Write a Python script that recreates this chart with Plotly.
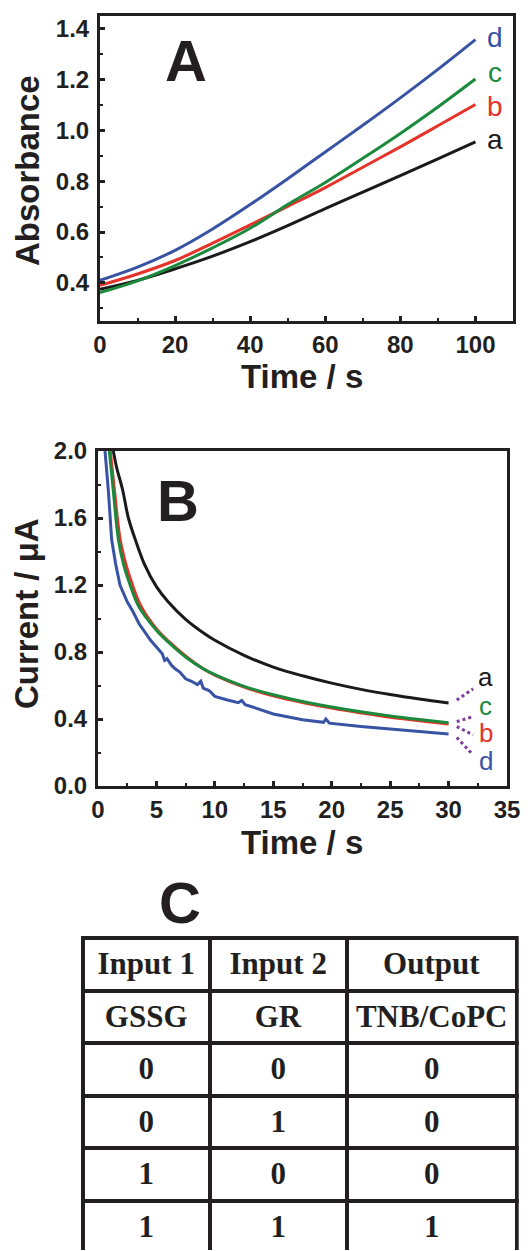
import plotly.graph_objects as go

W, H = 528, 1251
INK = "#231f20"
C_A, C_B, C_C, C_D = "#1a1a1a", "#e5332a", "#1b8a3c", "#3953a4"
DOT = "#7d3c98"

# ---------------- Panel A data (Absorbance vs time) ----------------
tA = [0, 10, 20, 30, 40, 50, 60, 70, 80, 90, 100]
absA = [0.375, 0.41, 0.455, 0.505, 0.562, 0.625, 0.692, 0.757, 0.822, 0.888, 0.955]
absB = [0.39, 0.435, 0.488, 0.556, 0.628, 0.701, 0.775, 0.855, 0.935, 1.018, 1.102]
absC = [0.362, 0.408, 0.468, 0.538, 0.615, 0.708, 0.795, 0.89, 0.988, 1.092, 1.202]
absD = [0.41, 0.462, 0.528, 0.612, 0.708, 0.81, 0.915, 1.02, 1.128, 1.24, 1.357]

# ---------------- Panel B data (Current vs time) ----------------
tB_a = [1.31, 1.6, 2.1, 2.6, 3.2, 4.0, 5.0, 6.0, 7.5, 9.0, 10.0, 12.5, 15.0, 17.5, 20.0, 22.5, 25.0, 27.5, 30.0]
iB_a = [2.0, 1.9, 1.77, 1.6, 1.47, 1.32, 1.19, 1.10, 0.995, 0.915, 0.87, 0.78, 0.71, 0.658, 0.614, 0.577, 0.546, 0.519, 0.495]
tB_c = [0.97, 1.3, 1.75, 2.2, 2.75, 3.5, 5.0, 6.0, 7.5, 9.0, 10.0, 12.5, 15.0, 17.5, 20.0, 22.5, 25.0, 27.5, 30.0]
iB_c = [2.0, 1.77, 1.47, 1.32, 1.2, 1.07, 0.93, 0.86, 0.77, 0.70, 0.665, 0.595, 0.545, 0.505, 0.472, 0.443, 0.418, 0.397, 0.378]
tB_b = [1.05, 1.4, 1.9, 2.4, 2.95, 3.7, 5.1, 6.1, 7.6, 9.0, 10.0, 12.5, 15.0, 17.5, 20.0, 22.5, 25.0, 27.5, 30.0]
iB_b = [2.0, 1.77, 1.47, 1.32, 1.2, 1.07, 0.93, 0.86, 0.77, 0.70, 0.662, 0.59, 0.538, 0.498, 0.465, 0.436, 0.41, 0.39, 0.37]
tB_d = [0.6, 0.88, 1.17, 1.5, 1.88, 2.5, 3.0, 3.5, 4.0, 4.5, 5.0, 5.5, 5.7, 5.9, 6.3, 6.6, 7.0, 7.5, 8.0, 8.5, 8.8,
        9.0, 9.5, 10.0, 11.0, 12.0, 12.3, 12.6, 13.5, 15.0, 17.5, 19.3, 19.5, 19.8, 22.5, 25.0, 27.5, 30.0]
iB_d = [2.0, 1.77, 1.47, 1.33, 1.2, 1.10, 1.04, 0.97, 0.92, 0.87, 0.83, 0.79, 0.75, 0.76, 0.72, 0.70, 0.68, 0.64, 0.625, 0.605, 0.625,
        0.585, 0.57, 0.535, 0.515, 0.497, 0.51, 0.485, 0.465, 0.43, 0.395, 0.38, 0.40, 0.375, 0.355, 0.34, 0.325, 0.31]

# ---------------- Panel C truth table ----------------
headers = ["Input 1", "Input 2", "Output"]
col_input1 = ["GSSG", "0", "0", "1", "1"]
col_input2 = ["GR", "0", "1", "0", "1"]
col_output = ["TNB/CoPC", "0", "0", "0", "1"]

curve_labels = ["a", "b", "c", "d"]
curve_colors = [C_A, C_B, C_C, C_D]


def px_x(p):
    return p / W


def px_y(p):
    return 1 - p / H


fig = go.Figure()

for ys, col in zip([absA, absB, absC, absD], curve_colors):
    fig.add_trace(go.Scatter(x=tA, y=ys, mode="lines", line=dict(color=col, width=3, shape="spline"),
                             xaxis="x", yaxis="y", showlegend=False))

for ts, ys, col in zip([tB_a, tB_b, tB_c, tB_d], [iB_a, iB_b, iB_c, iB_d], curve_colors):
    fig.add_trace(go.Scatter(x=ts, y=ys, mode="lines",
                             line=dict(color=col, width=3, shape="spline" if col != C_D else "linear"),
                             xaxis="x2", yaxis="y2", showlegend=False))

fig.add_trace(go.Table(
    domain=dict(x=[px_x(82.7), px_x(517)], y=[0, px_y(938)]),
    columnwidth=[127, 137, 170],
    header=dict(values=["<b>%s</b>" % h for h in headers], height=52.5, align="center",
                font=dict(family="Liberation Serif", size=31, color=INK),
                line=dict(color=INK, width=4), fill=dict(color="white")),
    cells=dict(values=[["<b>%s</b>" % v for v in c] for c in (col_input1, col_input2, col_output)],
               height=52.5, align="center",
               font=dict(family="Liberation Serif", size=31, color=INK),
               line=dict(color=INK, width=4), fill=dict(color="white")),
))

tickfont = dict(family="Liberation Sans", size=24, color=INK, weight="bold")
common = dict(showgrid=False, zeroline=False, showline=True, linewidth=3, linecolor=INK, mirror=True,
              ticks="inside", ticklen=5, tickwidth=2.5, tickcolor=INK, tickfont=tickfont, automargin=False)

fig.update_layout(
    width=W, height=H, margin=dict(l=0, r=0, t=0, b=0),
    paper_bgcolor="white", plot_bgcolor="white", showlegend=False,
    xaxis=dict(domain=[px_x(100), px_x(513)], range=[0, 110], tickvals=[0, 20, 40, 60, 80, 100],
               minor=dict(dtick=10, tick0=0, ticks="inside", ticklen=3, tickwidth=2, tickcolor=INK),
               anchor="y", ticklabelstandoff=0, **common),
    yaxis=dict(domain=[px_y(321), px_y(16)], range=[0.25, 1.45], tickvals=[0.4, 0.6, 0.8, 1.0, 1.2, 1.4],
               tickformat=".1f",
               minor=dict(dtick=0.1, tick0=0.3, ticks="inside", ticklen=3, tickwidth=2, tickcolor=INK),
               anchor="x", ticklabelstandoff=3, **common),
    xaxis2=dict(domain=[px_x(98), px_x(507)], range=[0, 35], tickvals=[0, 5, 10, 15, 20, 25, 30, 35],
                minor=dict(dtick=2.5, tick0=0, ticks="inside", ticklen=3, tickwidth=2, tickcolor=INK),
                anchor="y2", ticklabelstandoff=0, **common),
    yaxis2=dict(domain=[px_y(786), px_y(451)], range=[0, 2], tickvals=[0, 0.4, 0.8, 1.2, 1.6, 2.0],
                tickformat=".1f",
                minor=dict(dtick=0.2, tick0=0, ticks="inside", ticklen=3, tickwidth=2, tickcolor=INK),
                anchor="x2", ticklabelstandoff=3, **common),
)

ann = []
title_font = dict(family="Liberation Sans", size=33, color=INK, weight="bold")
big_font = dict(family="Liberation Sans", size=58, color=INK, weight="bold")
for txt, x, y, ang in [("Absorbance", 27, 171, -90), ("Time / s", 302, 376, 0),
                       ("Current / μA", 26, 614, -90), ("Time / s", 302, 842, 0)]:
    ann.append(dict(text=txt, x=px_x(x), y=px_y(y), xref="paper", yref="paper", showarrow=False,
                    textangle=ang, font=title_font, xanchor="center", yanchor="middle"))
for txt, x, y in [("A", 186, 60), ("B", 178, 500), ("C", 180, 903)]:
    ann.append(dict(text=txt, x=px_x(x), y=px_y(y), xref="paper", yref="paper", showarrow=False,
                    font=big_font, xanchor="center", yanchor="middle"))

# Panel A curve labels (at the end of each curve)
for lab, col, yv in zip(curve_labels, curve_colors, [0.963, 1.093, 1.228, 1.366]):
    ann.append(dict(text=lab, x=105.3, y=yv, xref="x", yref="y", showarrow=False,
                    font=dict(family="Liberation Sans", size=28, color=col),
                    xanchor="center", yanchor="middle"))
# Panel B curve labels
for lab, col, yv in zip(curve_labels, curve_colors, [0.65, 0.318, 0.48, 0.148]):
    ann.append(dict(text=lab, x=33.2, y=yv, xref="x2", yref="y2", showarrow=False,
                    font=dict(family="Liberation Sans", size=26, color=col),
                    xanchor="center", yanchor="middle"))
fig.update_layout(annotations=ann)

# dotted connectors from curve ends to labels in panel B
for (x0, y0, x1, y1) in [(30.7, 0.513, 32.1, 0.58), (30.7, 0.384, 32.1, 0.414),
                         (30.7, 0.355, 32.1, 0.305), (30.7, 0.29, 32.1, 0.185)]:
    fig.add_shape(type="line", x0=x0, y0=y0, x1=x1, y1=y1, xref="x2", yref="y2",
                  line=dict(color=DOT, width=3, dash="dot"))

fig.write_html("out.html")
